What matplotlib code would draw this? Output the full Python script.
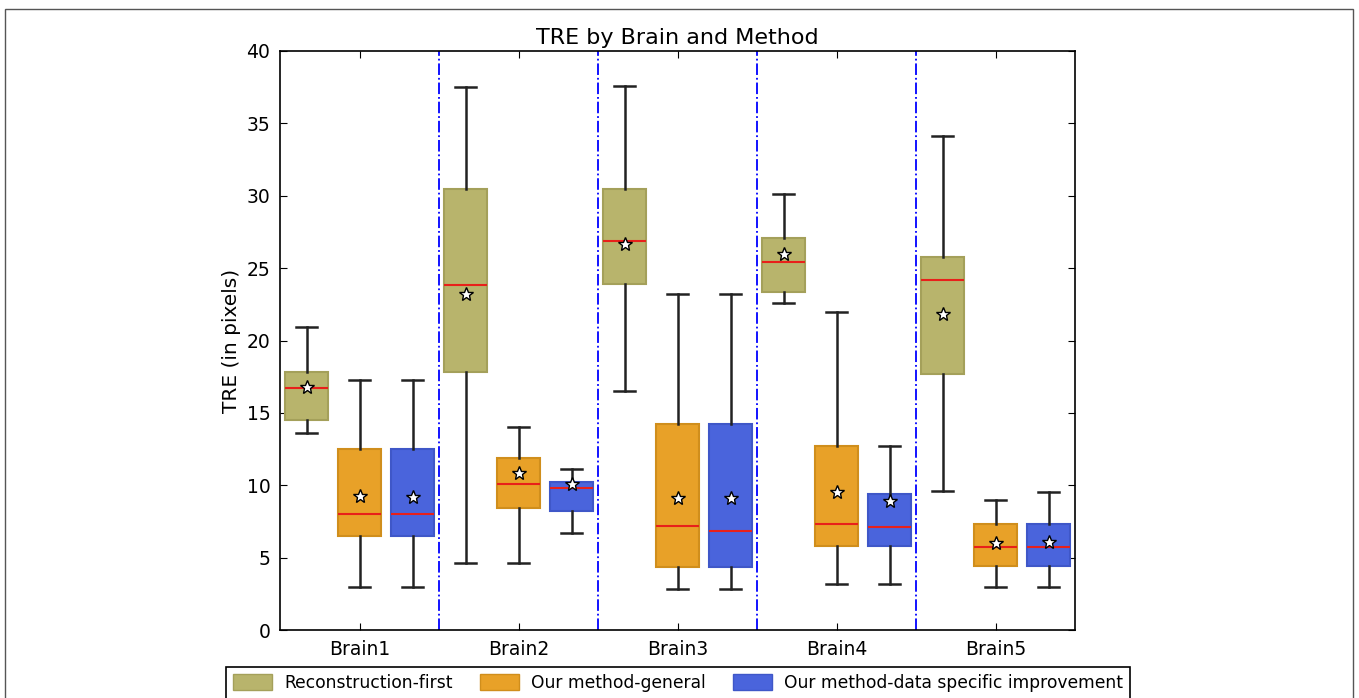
import matplotlib.pyplot as plt
from matplotlib.patches import Patch, Rectangle

brains = ['Brain1', 'Brain2', 'Brain3', 'Brain4', 'Brain5']
methods = ['Reconstruction-first', 'Our method-general',
           'Our method-data specific improvement']
colors = ['#b8b46c', '#e8a128', '#4a64dc']
edges = ['#a4a05a', '#d08e1c', '#3f57c8']

# per method: one value per brain
whislo = [[13.6, 4.6, 16.5, 22.6, 9.6],
          [3.0, 4.6, 2.85, 3.2, 3.0],
          [3.0, 6.7, 2.85, 3.2, 3.0]]
q1 = [[14.5, 17.8, 23.9, 23.35, 17.7],
      [6.5, 8.4, 4.35, 5.8, 4.4],
      [6.5, 8.2, 4.35, 5.8, 4.4]]
med = [[16.7, 23.8, 26.9, 25.4, 24.2],
       [8.0, 10.1, 7.2, 7.3, 5.7],
       [8.0, 9.8, 6.85, 7.1, 5.7]]
q3 = [[17.8, 30.5, 30.5, 27.1, 25.8],
      [12.5, 11.9, 14.2, 12.7, 7.3],
      [12.5, 10.2, 14.2, 9.4, 7.3]]
whishi = [[20.9, 37.5, 37.6, 30.1, 34.1],
          [17.3, 14.0, 23.2, 22.0, 9.0],
          [17.3, 11.1, 23.2, 12.7, 9.5]]
means = [[16.8, 23.2, 26.7, 26.0, 21.8],
         [9.25, 10.85, 9.15, 9.5, 6.0],
         [9.2, 10.1, 9.15, 8.9, 6.05]]

fig = plt.figure(figsize=(13.59, 6.98), dpi=100)
ax = fig.add_axes([280 / 1359, 68 / 698, 795 / 1359, 579 / 698])

for m in range(3):
    stats = []
    for b in range(5):
        stats.append(dict(whislo=whislo[m][b], q1=q1[m][b], med=med[m][b],
                          q3=q3[m][b], whishi=whishi[m][b], mean=means[m][b],
                          fliers=[]))
    pos = [b * 3 + m + 0.5 for b in range(5)]
    ax.bxp(stats, positions=pos, widths=0.83, patch_artist=True,
           showmeans=True, manage_ticks=False,
           boxprops=dict(facecolor=colors[m], edgecolor=edges[m], linewidth=1.5),
           medianprops=dict(color='#e8201a', linewidth=1.5),
           whiskerprops=dict(color='#222222', linewidth=1.8),
           capprops=dict(color='#222222', linewidth=1.8),
           meanprops=dict(marker='*', markerfacecolor='white',
                          markeredgecolor='black', markersize=10,
                          markeredgewidth=1))

for d in [3, 6, 9, 12]:
    ax.axvline(d, color='blue', linestyle='-.', linewidth=1.3)

ax.set_xlim(0, 15)
ax.set_ylim(0, 40)
ax.set_xticks([b * 3 + 1.5 for b in range(5)])
ax.set_xticklabels(brains)
ax.tick_params(direction='in', top=True, right=True, labelsize=13.5,
               length=5, pad=7)
for s in ax.spines.values():
    s.set_linewidth(1.2)
ax.set_ylabel('TRE (in pixels)', fontsize=14.5)
ax.set_title('TRE by Brain and Method', fontsize=16, pad=5)

handles = [Patch(facecolor=colors[i], edgecolor=edges[i], label=methods[i])
           for i in range(3)]
leg = fig.legend(handles=handles, loc='upper center', ncol=3, fontsize=12.3,
                 bbox_to_anchor=(678 / 1359, 31 / 698), fancybox=False,
                 edgecolor='black', framealpha=1, handlelength=2.3,
                 handleheight=1.1, handletextpad=0.7, columnspacing=1.6,
                 borderaxespad=0)
leg.get_frame().set_linewidth(1.2)

fig.patches.append(Rectangle((5 / 1359, -0.05), 1348 / 1359, 1.05 - 9 / 698,
                             transform=fig.transFigure, fill=False,
                             edgecolor='#555555', linewidth=1))

fig.savefig('out.png', dpi=100)
